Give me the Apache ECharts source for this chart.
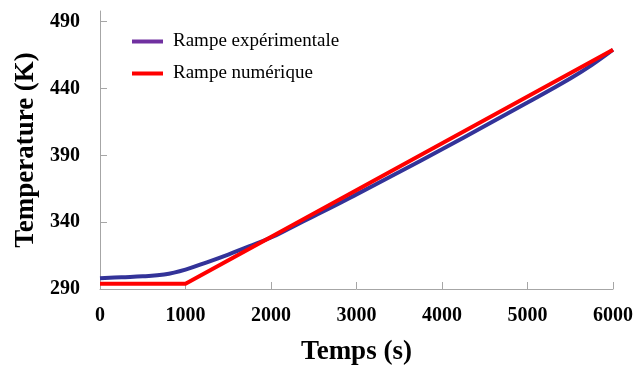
<!DOCTYPE html>
<html>
<head>
<meta charset="utf-8">
<script src="https://cdn.jsdelivr.net/npm/echarts@6/dist/echarts.min.js"></script>
<style>html,body{margin:0;padding:0;background:#fff;}#c{width:635px;height:367px;}</style>
</head>
<body>
<div id="c"></div>
<script>
const expTime = [0, 250, 500, 750, 1000, 1250, 1500, 1750, 2000, 2250, 2500, 2750, 3000, 3500, 4000, 4500, 5000, 5500, 5750, 6000];
const expTemp = [298, 298.8, 299.5, 300.8, 304.5, 310, 315.8, 322, 328.5, 336.5, 344.5, 352.5, 360.8, 377.5, 394.5, 412, 429.5, 447.5, 457.5, 469];
const numTime = [0, 1000, 6000];
const numTemp = [294, 294, 469];
const yTicks = [290, 340, 390, 440, 490];
const xTicks = [0, 1000, 2000, 3000, 4000, 5000, 6000];
const seriesNames = ['Rampe expérimentale', 'Rampe numérique'];

const FONT = '"Liberation Serif", "DejaVu Serif", serif';
const chart = echarts.init(document.getElementById('c'), null, {renderer: 'canvas'});
chart.setOption({
  animation: false,
  backgroundColor: '#fff',
  grid: {left: 100, right: 22, top: 11, bottom: 78, containLabel: false, outerBoundsMode: 'none'},
  legend: {
    orient: 'vertical', left: 127, top: 27, itemGap: 13,
    itemWidth: 31, itemHeight: 4, icon: 'rect',
    textStyle: {fontFamily: FONT, fontSize: 19, color: '#000', padding: [0, 0, 0, 5]},
    data: [
      {name: seriesNames[0], itemStyle: {color: '#7030A0'}},
      {name: seriesNames[1], itemStyle: {color: '#FF0000'}}
    ]
  },
  xAxis: {
    type: 'value', min: 0, max: 6000,
    name: 'Temps (s)', nameLocation: 'middle', nameGap: 50,
    nameTextStyle: {fontFamily: FONT, fontSize: 27, fontWeight: 'bold', color: '#000'},
    axisLine: {show: true, lineStyle: {color: '#a6a6a6', width: 1}},
    axisTick: {show: true, inside: true, length: 7, lineStyle: {color: '#a6a6a6'}, customValues: xTicks},
    axisLabel: {fontFamily: FONT, fontSize: 20, fontWeight: 'bold', color: '#000', margin: 17, customValues: xTicks,
      formatter: v => String(v)},
    splitLine: {show: false}
  },
  yAxis: {
    type: 'value', min: 290, max: 498,
    name: 'Temperature (K)', nameLocation: 'middle', nameGap: 52, nameRotate: 90,
    nameTextStyle: {fontFamily: FONT, fontSize: 27, fontWeight: 'bold', color: '#000'},
    axisLine: {show: true, lineStyle: {color: '#a6a6a6', width: 1}},
    axisTick: {show: true, inside: true, length: 7, lineStyle: {color: '#a6a6a6'}, customValues: yTicks},
    axisLabel: {fontFamily: FONT, fontSize: 20, fontWeight: 'bold', color: '#000', margin: 20, customValues: yTicks,
      formatter: v => String(v)},
    splitLine: {show: false}
  },
  series: [
    {
      name: seriesNames[0], type: 'line', showSymbol: false, smooth: 0.4,
      data: expTime.map((t, i) => [t, expTemp[i]]),
      itemStyle: {color: '#7030A0'},
      lineStyle: {color: '#333399', width: 4},
      z: 2
    },
    {
      name: seriesNames[1], type: 'line', showSymbol: false,
      data: numTime.map((t, i) => [t, numTemp[i]]),
      itemStyle: {color: '#FF0000'},
      lineStyle: {color: '#FF0000', width: 4},
      z: 3
    }
  ]
});
</script>
</body>
</html>
